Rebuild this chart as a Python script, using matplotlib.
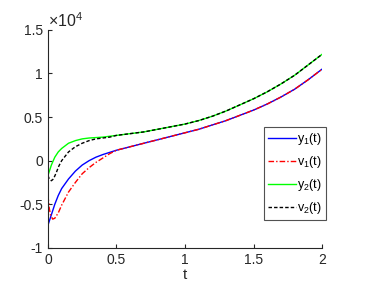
import matplotlib.pyplot as plt

# values in units of 1e4
t_y1 = [0, 0.025, 0.05, 0.075, 0.1, 0.15, 0.2, 0.25, 0.3, 0.35, 0.4, 0.5, 0.6, 0.7,
        0.8, 0.9, 1.0, 1.1, 1.2, 1.3, 1.4, 1.5, 1.6, 1.7, 1.8, 1.9, 2.0]
y1 = [-0.74, -0.62, -0.50, -0.40, -0.32, -0.21, -0.12, -0.05, 0.00, 0.04, 0.07, 0.12,
      0.16, 0.20, 0.24, 0.28, 0.32, 0.36, 0.41, 0.46, 0.52, 0.58, 0.65, 0.73, 0.82,
      0.93, 1.05]

t_v1 = [0, 0.01, 0.02, 0.035, 0.05, 0.075, 0.1, 0.15, 0.2, 0.25, 0.3, 0.35, 0.4, 0.45,
        0.5, 0.6, 0.7, 0.8, 0.9, 1.0, 1.1, 1.2, 1.3, 1.4, 1.5, 1.6, 1.7, 1.8, 1.9, 2.0]
v1 = [-0.40, -0.55, -0.63, -0.67, -0.66, -0.60, -0.51, -0.36, -0.25, -0.15, -0.08,
      -0.02, 0.03, 0.08, 0.12, 0.16, 0.20, 0.24, 0.28, 0.32, 0.36, 0.41, 0.46, 0.52,
      0.58, 0.65, 0.73, 0.82, 0.93, 1.05]

t_y2 = [0, 0.025, 0.05, 0.075, 0.1, 0.15, 0.2, 0.25, 0.3, 0.4, 0.5, 0.6, 0.7, 0.8,
        0.9, 1.0, 1.1, 1.2, 1.3, 1.4, 1.5, 1.6, 1.7, 1.8, 1.9, 2.0]
y2 = [-0.17, -0.05, 0.04, 0.10, 0.14, 0.20, 0.23, 0.25, 0.26, 0.27, 0.29, 0.31, 0.33,
      0.36, 0.39, 0.42, 0.46, 0.51, 0.57, 0.64, 0.71, 0.79, 0.88, 0.98, 1.10, 1.22]

t_v2 = [0, 0.01, 0.025, 0.04, 0.06, 0.08, 0.1, 0.15, 0.2, 0.25, 0.3, 0.35, 0.4, 0.45,
        0.5, 0.6, 0.7, 0.8, 0.9, 1.0, 1.1, 1.2, 1.3, 1.4, 1.5, 1.6, 1.7, 1.8, 1.9, 2.0]
v2 = [-0.17, -0.21, -0.23, -0.21, -0.14, -0.06, 0.00, 0.10, 0.16, 0.20, 0.23, 0.25,
      0.26, 0.27, 0.29, 0.31, 0.33, 0.36, 0.39, 0.42, 0.46, 0.51, 0.57, 0.64, 0.71,
      0.79, 0.88, 0.98, 1.10, 1.22]

x_ticks = [0, 0.5, 1, 1.5, 2]
x_labels = ['0', '0.5', '1', '1.5', '2']
y_ticks = [-1, -0.5, 0, 0.5, 1, 1.5]
y_labels = ['-1', '-0.5', '0', '0.5', '1', '1.5']

plt.rcParams['font.family'] = ['Liberation Sans', 'DejaVu Sans']
plt.rcParams['mathtext.fontset'] = 'custom'
plt.rcParams['mathtext.rm'] = 'Liberation Sans'
plt.rcParams['mathtext.it'] = 'Liberation Sans'

fig = plt.figure(figsize=(3.66, 2.93), dpi=100)
ax = fig.add_axes([0.131, 0.154, 0.749, 0.744])

ax.plot(t_y1, y1, color='blue', lw=1.0, label='y$_1$(t)')
ax.plot(t_v1, v1, color='red', lw=1.0, linestyle=(0, (4, 1.5, 1, 1.5)), label='v$_1$(t)')
ax.plot(t_y2, y2, color='#00ff00', lw=1.0, label='y$_2$(t)')
ax.plot(t_v2, v2, color='black', lw=1.0, linestyle=(0, (2.5, 1.5)), label='v$_2$(t)')

ax.set_xlim(0, 2)
ax.set_ylim(-1, 1.5)
ax.set_xticks(x_ticks, x_labels)
ax.set_yticks(y_ticks, y_labels)
ax.spines['top'].set_visible(False)
ax.spines['right'].set_visible(False)
for s in ['left', 'bottom']:
    ax.spines[s].set_color('#262626')
    ax.spines[s].set_linewidth(0.8)
ax.tick_params(direction='in', length=3, width=0.8, colors='#262626', labelsize=10)
ax.set_xlabel('t', fontsize=11, color='#262626', labelpad=1)
ax.text(0, 1.0, r'$\times10^4$', transform=ax.transAxes, fontsize=11.5,
        color='#262626', va='bottom', ha='left')

leg = ax.legend(loc='upper left', bbox_to_anchor=(0.788, 0.555), fontsize=9,
                frameon=True, fancybox=False, handlelength=2.2, handletextpad=0.1,
                borderpad=0.35, labelspacing=0.55, borderaxespad=0)
leg.get_frame().set_edgecolor('#262626')
leg.get_frame().set_linewidth(0.8)

fig.savefig('out.png', dpi=100)
